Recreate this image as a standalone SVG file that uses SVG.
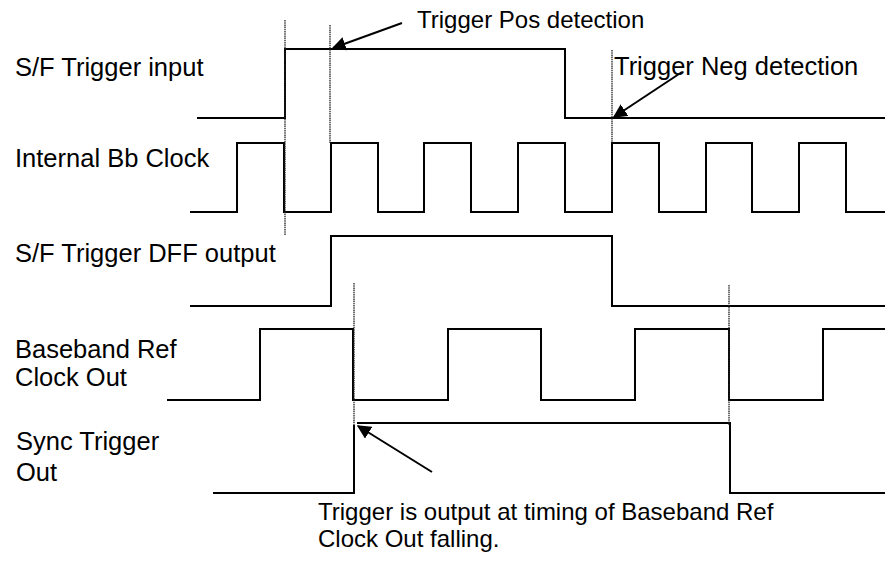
<svg xmlns="http://www.w3.org/2000/svg" width="885" height="567" viewBox="0 0 885 567">
<style>
  .lbl { font-family: "Liberation Sans", Arial, sans-serif; font-size: 25.5px; fill: #000; }
  .note { font-family: "Liberation Sans", Arial, sans-serif; font-size: 24px; fill: #000; }
  .wave { fill: none; stroke: #000; stroke-width: 2; stroke-linejoin: miter; }
  .mark { fill: none; stroke: #222; stroke-width: 1.3; stroke-dasharray: 1.5 0.7; }
  .arr { stroke: #000; stroke-width: 2; fill: none; marker-end: url(#ah); }
</style>
<defs>
  <marker id="ah" viewBox="0 0 10 10" refX="9" refY="5" markerWidth="7" markerHeight="7" markerUnits="strokeWidth" orient="auto">
    <path d="M0,0 L10,5 L0,10 z" fill="#000"/>
  </marker>
</defs>
<rect width="885" height="567" fill="#fff"/>

<g id="sf-trigger-input">
  <text class="lbl" x="15" y="76">S/F Trigger input</text>
  <path class="wave" d="M197,118 H285 V49 H565 V118 H885"/>
</g>

<g id="internal-bb-clock">
  <text class="lbl" x="15" y="167">Internal Bb Clock</text>
  <path class="wave" d="M190,212 H237 V143 H284 V212 H331 V143 H378 V212 H424 V143 H471 V212 H518 V143 H565 V212 H612 V143 H659 V212 H706 V143 H752 V212 H799 V143 H846 V212 H885"/>
</g>

<g id="sf-trigger-dff-output">
  <text class="lbl" x="15" y="262">S/F Trigger DFF output</text>
  <path class="wave" d="M190,306 H331 V236 H612 V306 H885"/>
</g>

<g id="baseband-ref-clock-out">
  <text class="lbl" x="15" y="358">Baseband Ref</text>
  <text class="lbl" x="15" y="386">Clock Out</text>
  <path class="wave" d="M167,400 H260 V329 H353 V400 H448 V329 H541 V400 H635 V329 H729 V400 H823 V329 H885"/>
</g>

<g id="sync-trigger-out">
  <text class="lbl" x="16" y="450">Sync Trigger</text>
  <text class="lbl" x="16" y="481">Out</text>
  <path class="wave" d="M213,493 H354 V425"/>
  <path class="wave" d="M357,423 H730 V493 H885"/>
</g>

<g id="markers">
  <line class="mark" x1="285" y1="20" x2="285" y2="235"/>
  <line class="mark" x1="330" y1="25" x2="330" y2="143"/>
  <line class="mark" x1="612" y1="50" x2="612" y2="143"/>
  <line class="mark" x1="354" y1="283" x2="354" y2="425"/>
  <line class="mark" x1="729" y1="285" x2="729" y2="425"/>
</g>

<g id="note-pos">
  <text class="note" x="417" y="28">Trigger Pos detection</text>
</g>
<g id="note-neg">
  <text class="lbl" x="614" y="75">Trigger Neg detection</text>
</g>
<g id="note-sync">
  <text class="note" x="318" y="520">Trigger is output at timing of Baseband Ref</text>
  <text class="note" x="318" y="547">Clock Out falling.</text>
</g>

<g id="connectors">
  <line class="arr" x1="402" y1="23" x2="333" y2="48"/>
  <line class="arr" x1="682" y1="72" x2="614" y2="117"/>
  <line class="arr" x1="432" y1="472" x2="358" y2="426"/>
</g>
</svg>
